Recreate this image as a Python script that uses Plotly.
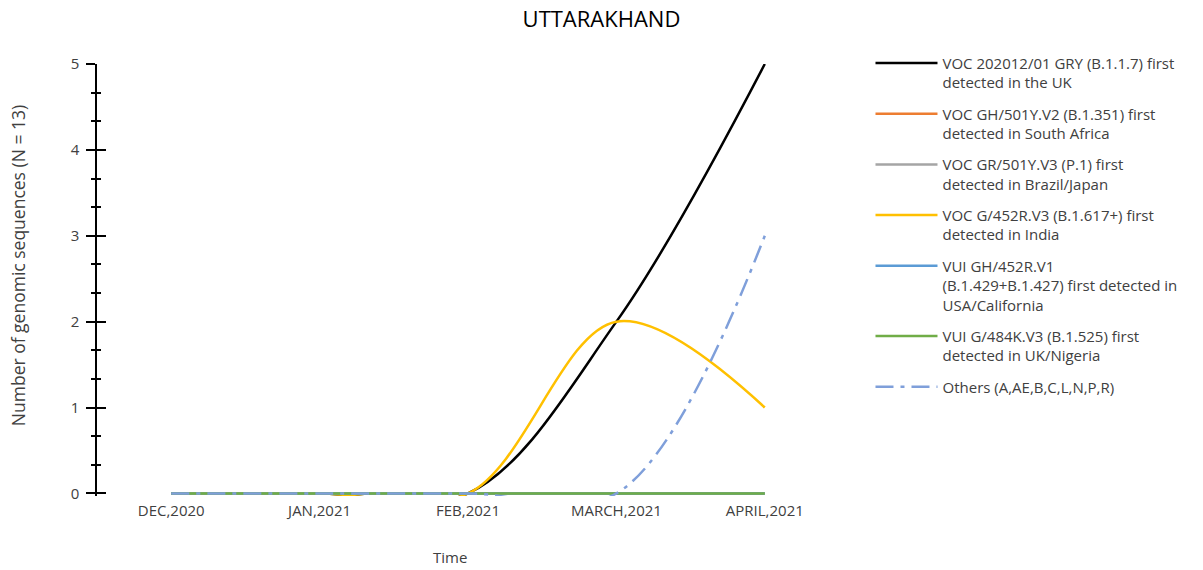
import plotly.graph_objects as go

months = ["DEC,2020", "JAN,2021", "FEB,2021", "MARCH,2021", "APRIL,2021"]

names = [
    "VOC 202012/01 GRY (B.1.1.7) first<br>detected in the UK",
    "VOC GH/501Y.V2 (B.1.351) first<br>detected in South Africa",
    "VOC GR/501Y.V3 (P.1) first<br>detected in Brazil/Japan",
    "VOC G/452R.V3 (B.1.617+) first<br>detected in India",
    "VUI GH/452R.V1<br>(B.1.429+B.1.427) first detected in<br>USA/California",
    "VUI G/484K.V3 (B.1.525) first<br>detected in UK/Nigeria",
    "Others (A,AE,B,C,L,N,P,R)",
]

uk_b117 = [0, 0, 0, 2, 5]
sa_b1351 = [0, 0, 0, 0, 0]
br_p1 = [0, 0, 0, 0, 0]
in_b1617 = [0, 0, 0, 2, 1]
us_b1429 = [0, 0, 0, 0, 0]
ng_b1525 = [0, 0, 0, 0, 0]
others = [0, 0, 0, 0, 3]

series = [uk_b117, sa_b1351, br_p1, in_b1617, us_b1429, ng_b1525, others]
colors = ["#000000", "#ED7D31", "#A5A5A5", "#FFC000", "#5B9BD5", "#70AD47", "#7F9FDA"]
dashes = ["solid"] * 6 + ["18px,7px,4px,7px"]

FONT = "Open Sans, Segoe UI, sans-serif"
TXT = "#404040"

fig = go.Figure()
for i, (nm, vals, c, d) in enumerate(zip(names, series, colors, dashes)):
    fig.add_trace(go.Scatter(
        x=list(range(len(months))), y=vals, name=nm, mode="lines",
        line=dict(color=c, width=2.5, dash=d, shape="spline", smoothing=1.0),
        legendgroup=f"g{i}",
    ))

fig.update_layout(
    width=1203, height=570,
    paper_bgcolor="white", plot_bgcolor="white",
    font=dict(family=FONT, size=15, color=TXT),
    title=dict(text="UTTARAKHAND", x=0.5, xref="container", xanchor="center",
               y=1 - 19 / 570, yref="container", yanchor="middle",
               font=dict(size=22, color="#000000")),
    margin=dict(l=97, r=364, t=64, b=74),
    showlegend=True,
    legend=dict(xref="container", yref="container", x=0.7236, y=0.918,
                xanchor="left", yanchor="top", valign="top",
                tracegroupgap=8.7, itemwidth=62, maxheight=540,
                font=dict(size=15, color=TXT)),
    xaxis=dict(range=[-0.5, 4.5], tickmode="array", tickvals=list(range(len(months))),
               ticktext=months, showline=False, showgrid=False, zeroline=False,
               ticks="", automargin=False, ticklabelstandoff=4,
               tickfont=dict(size=15)),
    yaxis=dict(range=[-0.03, 5], dtick=1, showgrid=False, zeroline=False,
               showline=True, linecolor="black", linewidth=1.5, automargin=False,
               ticks="outside", ticklen=9, tickwidth=1.5, tickcolor="black",
               ticklabelstandoff=4,
               minor=dict(dtick=1/3, ticks="outside", ticklen=4, tickwidth=1.5, tickcolor="black"),
               tickfont=dict(size=15)),
    yaxis2=dict(overlaying="y", matches="y", range=[-0.03, 5], dtick=1, showgrid=False,
                zeroline=False, showline=False, ticks="inside", ticklen=9, tickwidth=1.5,
                tickcolor="black", showticklabels=False, side="left",
                minor=dict(dtick=1/3, ticks="inside", ticklen=4, tickwidth=1.5, tickcolor="black")),
)
# axis titles placed as annotations (offset from plot centre as in the original)
fig.add_annotation(text="Number of genomic sequences (N = 13)", textangle=-90,
                   xref="paper", yref="paper", x=-(97 - 18) / 742, y=(495.6 - 266) / 431.6,
                   xanchor="center", yanchor="middle", showarrow=False,
                   font=dict(size=17.5, color=TXT))
fig.add_annotation(text="Time", xref="paper", yref="paper",
                   x=(450 - 97) / 742, y=-(557 - 495.6) / 431.6,
                   xanchor="center", yanchor="middle", showarrow=False,
                   font=dict(size=15, color=TXT))
fig.add_trace(go.Scatter(x=[None], y=[None], yaxis="y2", showlegend=False, hoverinfo="skip"))

fig.write_html("out.html", config={"displayModeBar": False},
               post_script="document.body.style.margin='0px';")
